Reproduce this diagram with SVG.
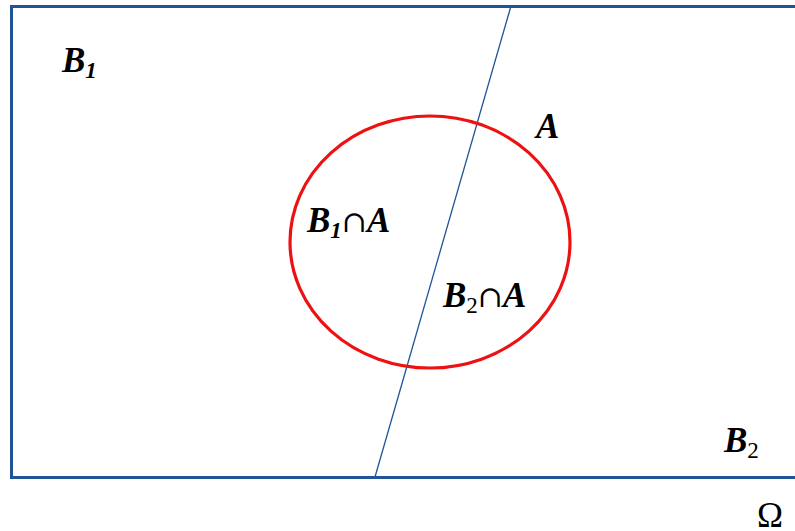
<svg xmlns="http://www.w3.org/2000/svg" width="795" height="531" viewBox="0 0 795 531">
<style>
.t{font-family:"Liberation Serif","Times New Roman",serif;font-size:35px;fill:#000}
.bi{font-weight:bold;font-style:italic}
.sub{font-size:23px}
.r{font-weight:normal;font-style:normal}
.cap{font-family:"DejaVu Serif","Liberation Serif",serif;font-size:30px}
</style>
<rect width="795" height="531" fill="#fff"/>
<g id="omega-box"><rect x="11.5" y="6.5" width="800" height="471" fill="none" stroke="#1F5596" stroke-width="3"/></g>
<g id="connectors"><line x1="511" y1="6" x2="375" y2="477" stroke="#1F5596" stroke-width="1.3"/></g>
<g id="circle-A"><ellipse cx="430" cy="242" rx="140" ry="126" fill="none" stroke="#EE1111" stroke-width="3.2"/></g>
<g id="label-B1"><text class="t" x="62" y="72"><tspan class="bi">B</tspan><tspan class="bi sub" dy="6">1</tspan></text></g>
<g id="label-A"><text class="t bi" x="536" y="138">A</text></g>
<g id="label-B1A"><text class="t" x="307" y="232"><tspan class="bi">B</tspan><tspan class="bi sub" dy="6">1</tspan><tspan class="r cap" dy="-6">∩</tspan><tspan class="bi">A</tspan></text></g>
<g id="label-B2A"><text class="t" x="443" y="307"><tspan class="bi">B</tspan><tspan class="sub r" dy="6">2</tspan><tspan class="r cap" dy="-6">∩</tspan><tspan class="bi">A</tspan></text></g>
<g id="label-B2"><text class="t" x="724" y="452"><tspan class="bi">B</tspan><tspan class="sub r" dy="6">2</tspan></text></g>
<g id="label-Omega"><text class="t" x="757" y="527" font-size="33">Ω</text></g>
</svg>
